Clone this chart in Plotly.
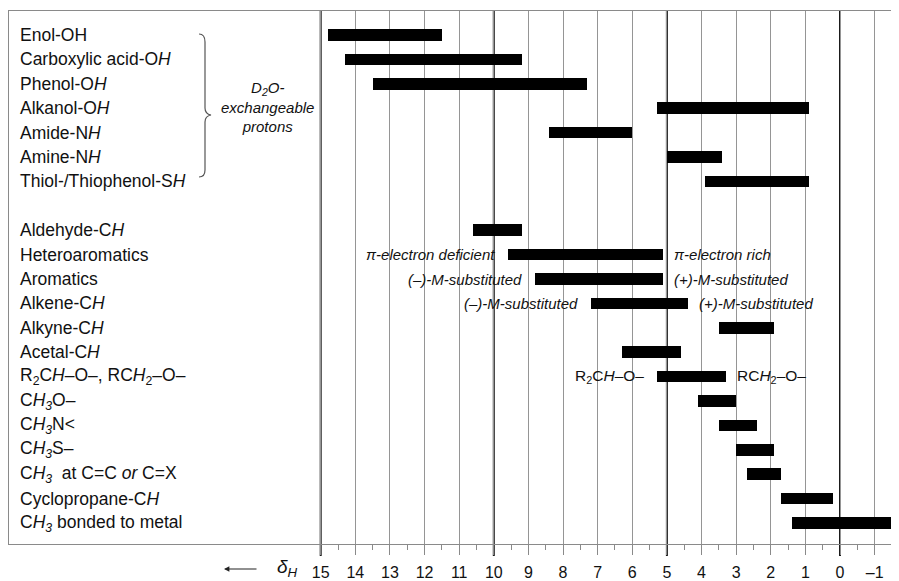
import plotly.graph_objects as go

# ---------------- data ----------------
labels = [
    "Enol-OH",
    "Carboxylic acid-O<i>H</i>",
    "Phenol-O<i>H</i>",
    "Alkanol-O<i>H</i>",
    "Amide-N<i>H</i>",
    "Amine-N<i>H</i>",
    "Thiol-/Thiophenol-S<i>H</i>",
    "Aldehyde-C<i>H</i>",
    "Heteroaromatics",
    "Aromatics",
    "Alkene-C<i>H</i>",
    "Alkyne-C<i>H</i>",
    "Acetal-C<i>H</i>",
    "R<sub>2</sub>C<i>H</i>–O–, RC<i>H</i><sub>2</sub>–O–",
    "C<i>H<sub>3</sub></i>O–",
    "C<i>H<sub>3</sub></i>N&lt;",
    "C<i>H<sub>3</sub></i>S–",
    "C<i>H<sub>3</sub></i>  at C=C <i>or</i> C=X",
    "Cyclopropane-C<i>H</i>",
    "C<i>H<sub>3</sub></i> bonded to metal",
]
shift_high = [14.8, 14.3, 13.5, 5.3, 8.4, 5.0, 3.9,
              10.6, 9.6, 8.8, 7.2, 3.5, 6.3, 5.3, 4.1, 3.5, 3.0, 2.7, 1.7, 1.4]
shift_low = [11.5, 9.2, 7.3, 0.9, 6.0, 3.4, 0.9,
             9.2, 5.1, 5.1, 4.4, 1.9, 4.6, 3.3, 3.0, 2.4, 1.9, 1.7, 0.2, -2.0]
n_exchangeable = 7  # first group (D2O-exchangeable protons)

tick_values = list(range(15, -2, -1))
tick_text = [str(v) if v >= 0 else "–" + str(-v) for v in tick_values]
major_values = [15, 10, 5, 0]

# side notes: (row index, side, text)
notes = [
    (8, "left", "<i>π-electron deficient</i>"),
    (8, "right", "<i>π-electron rich</i>"),
    (9, "left", "<i>(–)-M-substituted</i>"),
    (9, "right", "<i>(+)-M-substituted</i>"),
    (10, "left", "<i>(–)-M-substituted</i>"),
    (10, "right", "<i>(+)-M-substituted</i>"),
    (13, "left", "R<sub>2</sub>C<i>H</i>–O–"),
    (13, "right", "RC<i>H</i><sub>2</sub>–O–"),
]

# ---------------- layout helpers ----------------
# the page body has an 8px margin, so the figure starts at (8, 8)
OFF = 8
W, H = 899 - OFF, 581 - OFF
PLOT_L, PLOT_T, PLOT_B = 9, 11, 544      # page pixel positions of the frame
ML, MT, MR = PLOT_L - OFF, PLOT_T - OFF, 0
MB = H - (PLOT_B - OFF)
PW, PH = W - ML - MR, H - MT - MB

def px_x(p):
    return (p - PLOT_L) / PW

def px_y(p):
    return (PLOT_B - p) / PH

rows = [i if i < n_exchangeable else i + 1 for i in range(len(labels))]

FONT = "Liberation Sans, Arial, Helvetica, sans-serif"

fig = go.Figure()
fig.add_trace(go.Bar(
    orientation="h",
    y=rows,
    base=shift_high,
    x=[lo - hi for lo, hi in zip(shift_low, shift_high)],
    width=0.47,
    marker=dict(color="#000000", line=dict(width=0)),
    hoverinfo="skip",
))

annotations = []
for r, lab in zip(rows, labels):
    annotations.append(dict(
        x=px_x(18), xref="paper", y=r, yref="y", text=lab,
        showarrow=False, xanchor="left", yanchor="middle",
        font=dict(size=17.5, color="#111111", family=FONT),
    ))

for idx, side, txt in notes:
    r = rows[idx]
    size = 15.5 if "<sub>" in txt else 15
    if side == "left":
        annotations.append(dict(
            x=shift_high[idx], xref="x", y=r, yref="y", text=txt,
            showarrow=False, xanchor="right", yanchor="middle", xshift=-11,
            font=dict(size=size, color="#111111", family=FONT)))
    else:
        annotations.append(dict(
            x=shift_low[idx], xref="x", y=r, yref="y", text=txt,
            showarrow=False, xanchor="left", yanchor="middle", xshift=9,
            font=dict(size=size, color="#111111", family=FONT)))

# D2O-exchangeable label
annotations.append(dict(
    x=px_x(267), xref="paper", y=px_y(107), yref="paper",
    text="<i>D<sub>2</sub>O-<br>exchangeable<br>protons</i>",
    showarrow=False, xanchor="center", yanchor="middle", align="center",
    font=dict(size=15, color="#111111", family=FONT)))

# axis caption: arrow and delta_H
annotations.append(dict(
    x=px_x(224), xref="paper", y=px_y(569), yref="paper", text="",
    showarrow=True, ax=34, ay=0, arrowhead=2, arrowsize=0.9, arrowwidth=1.2,
    arrowcolor="#222222"))
annotations.append(dict(
    x=px_x(275), xref="paper", y=px_y(568), yref="paper",
    text="<i>δ<sub>H</sub></i>", showarrow=False, xanchor="left",
    yanchor="middle", font=dict(size=19, color="#111111", family=FONT)))

shapes = []
for v in major_values:
    shapes.append(dict(type="line", xref="x", yref="paper", x0=v, x1=v,
                       y0=-12 / PH, y1=1, line=dict(color="#1a1a1a", width=2),
                       layer="below"))

# brace
bx, tip = 205, 211
path = (f"M {px_x(199)},{px_y(34)} "
        f"Q {px_x(205)},{px_y(34)} {px_x(bx)},{px_y(42)} "
        f"L {px_x(bx)},{px_y(108)} "
        f"Q {px_x(bx)},{px_y(114)} {px_x(tip)},{px_y(115)} "
        f"Q {px_x(bx)},{px_y(116)} {px_x(bx)},{px_y(122)} "
        f"L {px_x(bx)},{px_y(170)} "
        f"Q {px_x(205)},{px_y(177)} {px_x(199)},{px_y(177)}")
shapes.append(dict(type="path", xref="paper", yref="paper", path=path,
                   line=dict(color="#555555", width=1.2)))

fig.update_layout(
    width=W, height=H,
    margin=dict(l=ML, r=MR, t=MT, b=MB, pad=0, autoexpand=False),
    paper_bgcolor="white", plot_bgcolor="white",
    showlegend=False, bargap=0,
    annotations=annotations, shapes=shapes,
    xaxis=dict(
        range=[(840 - PLOT_L) / 34.62, (840 - 899) / 34.62],
        tickvals=tick_values, ticktext=tick_text,
        showgrid=True, gridcolor="#959595", gridwidth=1.2,
        zeroline=False, showline=True, linecolor="#8a8a8a", linewidth=1.2,
        mirror=True,
        ticks="outside", ticklen=10, tickwidth=1.2, tickcolor="#8a8a8a",
        ticklabelstandoff=4,
        minor=dict(tickvals=[v + 0.5 for v in range(-2, 15)], ticks="outside",
                   ticklen=5, tickwidth=1, tickcolor="#8a8a8a", showgrid=False),
        tickfont=dict(size=16, color="#111111", family=FONT),
        fixedrange=True,
    ),
    yaxis=dict(
        range=[(PLOT_B - 35) / 24.4, (PLOT_T - 35) / 24.4],
        showgrid=False, zeroline=False, showticklabels=False, ticks="",
        showline=True, linecolor="#8a8a8a", linewidth=1.2, mirror=False,
        fixedrange=True,
    ),
)

fig.write_html("out.html")
